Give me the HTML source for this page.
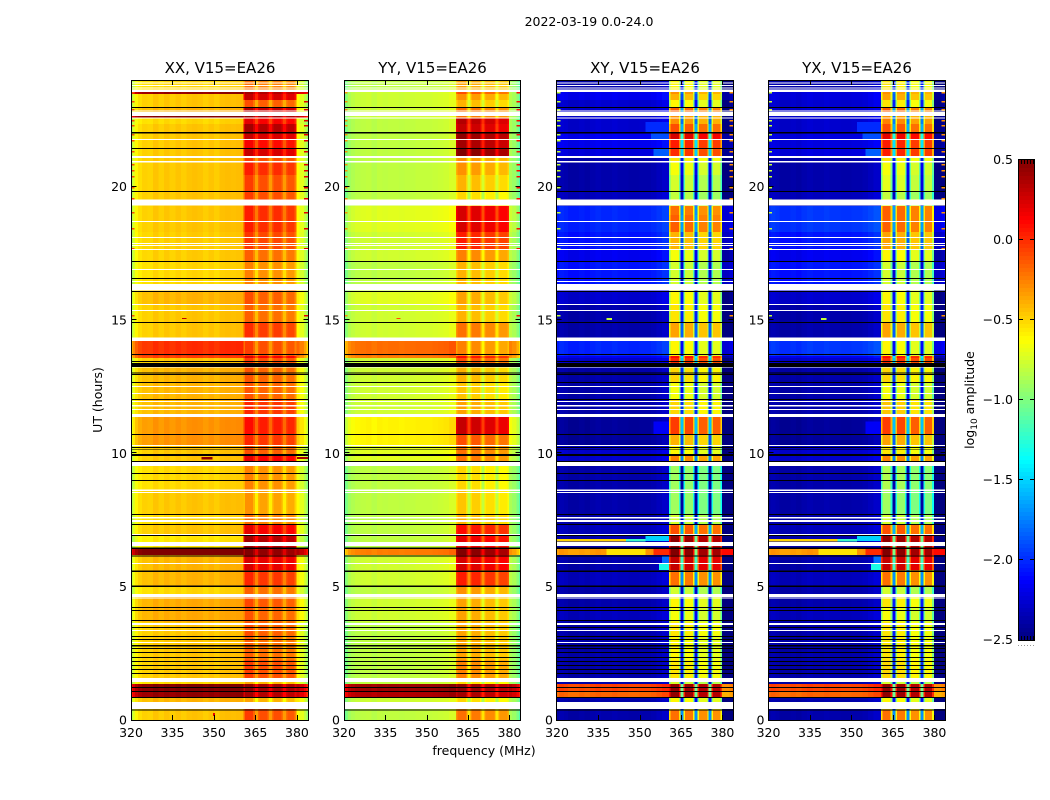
<!DOCTYPE html>
<html>
<head>
<meta charset="utf-8">
<title>2022-03-19 0.0-24.0</title>
<style>
html,body{margin:0;padding:0;background:#fff;width:1050px;height:800px;overflow:hidden}
svg{display:block}
text{font-family:"DejaVu Sans","Liberation Sans",sans-serif;fill:#000}
</style>
</head>
<body>
<svg id="figure" width="1050" height="800" viewBox="0 0 1050 800" xmlns="http://www.w3.org/2000/svg"></svg>
<script>
const panelNames = ['XX', 'YY', 'XY', 'YX'];
const panelSuffix = ', V15=EA26';
const freqTicks = [320, 335, 350, 365, 380];
const utTicks = [0, 5, 10, 15, 20];
const colorTicks = [0.5, 0.0, -0.5, -1.0, -1.5, -2.0, -2.5];

const rowEdgesUT = [24,23.55,23.475,23.25,22.99,22.8,22.65,22.575,22.35,22.01,
 21.75,21.45,21.15,20.925,20.44,19.8,19.54,19.275,18.94,18.3,
 17.625,17.175,16.31,16.09,15.56,14.925,14.325,14.21,13.65,13.575,
 13.39,13.24,12.675,12.0,11.475,11.36,10.725,10.31,9.94,9.675,
 9.525,8.59,7.725,7.31,6.9,6.675,6.42,6.18,5.625,5.025,
 4.725,4.24,3.675,3.15,2.25,1.575,1.35,1.09,0.86,0.675,
 0.375,0];

const xxLow = [-.55,.4,-.5,-.5,-.45,-.5,.45,-.55,-.5,-.5,
 -.5,-.5,-.5,-.5,-.5,-.5,-.5,-.5,-.5,-.52,
 -.52,-.55,-.5,-.45,-.5,-.5,-.5,-.05,-.1,-.5,
 -.5,-.45,-.45,-.45,-.4,-.35,-.35,-.5,-.5,-.5,
 -.55,-.5,-.55,-.5,-.6,-.6,.5,-.45,-.45,-.55,
 -.42,-.42,-.5,-.5,-.5,-.55,.45,.4,-.45,-.5,
 -.5];
const xxIF = [-.2,.4,.3,-.1,.35,0,.45,.2,.4,.3,
 .15,.3,-.05,.05,-.05,-.05,0,.05,.05,-.03,
 -.15,-.25,-.1,-.1,-.15,0,0,-.05,.2,-.05,
 -.05,-.12,-.12,.02,.05,.1,.02,-.1,.2,0,
 -.25,-.3,-.2,.2,.4,.4,.5,.25,.02,-.15,
 -.08,-.12,-.1,-.15,-.05,-.35,.45,.4,-.35,0,
 -.05];
const yyLow = [-.82,-.78,-.78,-.78,-.78,-.78,-.78,-.82,-.82,-.82,
 -.82,-.82,-.82,-.82,-.82,-.82,-.78,-.72,-.72,-.77,
 -.77,-.82,-.78,-.72,-.77,-.77,-.77,-.2,-.25,-.78,
 -.78,-.77,-.77,-.77,-.68,-.6,-.6,-.72,-.72,-.77,
 -.82,-.82,-.82,-.82,-.82,-.82,-.25,-.77,-.77,-.82,
 -.77,-.77,-.82,-.82,-.82,-.82,.4,.35,-.78,-.82,
 -.82];
const yyIF = [-.35,-.1,-.3,-.4,-.2,-.3,-.2,.35,.3,.45,
 .4,.5,-.3,-.3,-.4,-.5,-.4,.25,.25,.05,
 -.25,-.4,-.3,-.35,-.4,-.2,-.2,-.25,.1,-.1,
 -.2,-.4,-.45,-.35,-.1,.3,-.1,-.2,-.2,-.4,
 -.5,-.45,-.4,.1,.2,.2,.5,.25,.05,-.3,
 -.35,-.35,-.35,-.35,-.25,-.5,.45,.4,-.5,-.3,
 -.2];
const xyLow = [-2.4,-2.2,-2.2,-2.3,-2.3,-2.3,-2.3,-2.3,-2.3,-2.2,
 -2.2,-2.25,-2.4,-2.4,-2.4,-2.35,-2.4,-2.05,-2.05,-2.1,
 -2.2,-2.1,-2.25,-2.3,-2.4,-2.4,-2.4,-2.05,-2.2,-2.3,
 -2.5,-2.4,-2.4,-2.4,-2.4,-2.45,-2.45,-2.3,-2.3,-2.4,
 -2.4,-2.4,-2.4,-2.35,-2.4,-2.4,-.35,-2.4,-2.35,-2.4,
 -2.4,-2.35,-2.4,-2.4,-2.4,-2.4,-.1,-.2,-2.4,-2.4,
 -2.4];
const xyIF = [-.6,-.3,-.4,-.6,-.15,-.5,-.3,-.3,-.1,.25,
 .05,0,-.55,-.65,-.75,-.8,-.7,-.2,-.15,-.4,
 -.65,-.75,-.65,-.6,-.55,-.35,-.5,-.6,.1,0,
 -.5,-.5,-.65,-.5,-.5,-.05,-.4,-.6,-.25,-.75,
 -.9,-.9,-.75,-.1,.45,.45,.5,.3,-.2,-.75,
 -.6,-.65,-.55,-.6,-.55,-.75,.45,.45,-.6,-.5,
 -.2];
const yxLow = [-2.4,-2.25,-2.25,-2.3,-2.3,-2.3,-2.3,-2.3,-2.3,-2.25,
 -2.25,-2.25,-2.4,-2.4,-2.4,-2.35,-2.4,-2.0,-2.0,-2.1,
 -2.2,-2.1,-2.25,-2.3,-2.4,-2.4,-2.4,-2.0,-2.2,-2.3,
 -2.5,-2.4,-2.4,-2.4,-2.4,-2.45,-2.45,-2.3,-2.3,-2.4,
 -2.4,-2.4,-2.4,-2.35,-2.4,-2.4,-.35,-2.4,-2.35,-2.4,
 -2.4,-2.35,-2.4,-2.4,-2.4,-2.4,-.1,-.2,-2.4,-2.4,
 -2.4];
const yxIF = [-.55,-.3,-.35,-.55,-.15,-.5,-.3,-.25,-.1,.2,
 .05,.05,-.55,-.65,-.7,-.8,-.7,-.15,-.15,-.35,
 -.6,-.75,-.65,-.6,-.55,-.35,-.5,-.6,.1,0,
 -.5,-.5,-.65,-.45,-.5,-.05,-.35,-.55,-.25,-.75,
 -.85,-.9,-.75,-.1,.45,.45,.5,.3,-.2,-.75,
 -.55,-.65,-.55,-.55,-.5,-.75,.45,.45,-.6,-.5,
 -.2];

const specEdgesMHz = [320,320.7,321.5,322.5,324,326,328,330,332,334,336,338,340,342,344,346,348,350,352,354,356,358,360.7,361.2,364.2,364.8,365.9,366.4,369.4,369.9,371,371.5,374.5,375,376,376.5,379.2,379.8,381,382.5,383.4,384];
const specIsIF = [0,0,0,0,0,0,0,0,0,0,0,0,0,0,0,0,0,0,0,0,0,0,1,1,1,1,1,1,1,1,1,1,1,1,1,1,1,0,0,0,0];
const xxSpec = [-.33,-.22,-.1,-.03,.01,0,.05,.01,.05,.02,.05,.02,.05,.06,.05,.02,.05,.02,.06,.07,.06,.07,
 -.15,0,-.12,-.28,-.12,-.05,-.15,-.28,-.15,-.05,-.15,-.28,-.15,-.08,-.2,
 -.12,-.2,-.3,-.45];
const yySpec = [-.25,-.18,-.08,-.04,-.01,0,.01,-.02,.01,0,.01,.01,0,.01,.01,.02,.02,.02,.03,.04,.05,.08,
 -.1,0,-.1,-.35,-.1,-.03,-.12,-.35,-.12,-.08,-.15,-.35,-.15,-.12,-.2,
 -.05,-.1,-.2,-.32];
const xySpec = [0,.05,.05,.03,0,0,.02,0,.03,.05,.03,.03,.05,.03,.03,.02,.02,.03,.03,.05,.08,.12,
 -.35,0,-.35,-1.5,-.4,-.03,-.4,-1.5,-.45,-.1,-.45,-1.5,-.4,-.1,-.45,
 -.2,-.2,-.15,-.1];
const yxSpec = [0,.05,.05,.03,0,0,.02,0,.03,.05,.03,.03,.05,.03,.03,.02,.02,.03,.03,.05,.08,.12,
 -.35,0,-.35,-1.5,-.4,-.03,-.4,-1.5,-.45,-.1,-.45,-1.5,-.4,-.1,-.45,
 -.2,-.2,-.15,-.1];

const whiteStartUT = [23.906,23.8125,23.72,23.64,22.856,22.8,22.6,21.79,21.15,20.96,19.51,18.71,18.11,17.89,17.81,17.66,16.91,16.46,16.35,15.6,15.375,14.34,13.24,12.525,12.26,11.96,11.81,11.66,11.475,10.31,9.675,8.64,8.55,7.61,7.5,6.975,6.675,5.89,4.725,4.59,3.64,3.375,2.925,1.575,0.675];
const whiteEndUT = [23.869,23.775,23.68,23.55,22.82,22.65,22.56,21.75,21.075,20.91,19.29,18.675,18.075,17.85,17.775,17.625,16.875,16.425,16.11,15.56,15.34,14.22,13.21,12.49,12.225,11.925,11.76,11.625,11.36,10.275,9.525,8.59,8.51,7.56,7.425,6.94,6.525,5.85,4.61,4.55,3.56,3.34,2.89,1.425,0.41];

const blackStartUT = [22.99,22.05,21.45,19.84,17.21,16.575,16.09,14.925,13.725,13.46,13.39,13.03,12.975,12.675,12.04,10.725,10.24,10.17,9.975,9.71,9.26,9.0,7.725,7.35,6.94,6.47,6.17,5.61,5.04,4.24,4.125,3.75,3.49,3.15,3.04,2.81,2.7,2.55,2.36,2.21,2.06,1.91,1.76,1.24,1.09,0.86,0.39];
const blackEndUT = [22.95,21.99,21.41,19.8,17.175,16.54,16.05,14.89,13.69,13.425,13.24,12.99,12.94,12.64,12.0,10.69,10.2,10.14,9.9,9.675,9.225,8.96,7.69,7.31,6.9,6.42,6.13,5.55,4.99,4.2,4.09,3.71,3.45,3.11,3.0,2.76,2.66,2.51,2.325,2.175,2.025,1.875,1.725,1.2,1.05,0.825,0.36];

const edgeSpikeUT = [23.55,23.22,22.91,22.5,22.31,21.975,21.75,21.34,20.85,20.625,20.4,19.99,19.575,19.05,18.45,17.7,15.19];
const leftSpikeValues = [-.1,-.3,-.8,-.8];
const rightSpikeValues = [.2,.1,-.3,-.3];

const patchPanels = [0,0,0,0,1, 2,3, 2,2,2,3,3,3, 2,2,3,3, 2,2,2,3,3,3, 2,2,2,2,3,3,3,3];
const patchStartUT = [9.86,9.86,15.08,0.26,15.08, 15.08,15.08, 6.79,6.79,6.9,6.79,6.79,6.9, 6.15,5.89,6.15,5.89, 6.41,6.41,6.41,6.41,6.41,6.41, 22.43,21.99,21.45,11.2,22.43,21.99,21.45,11.2];
const patchEndUT = [9.77,9.79,15.04,0.15,15.04, 15.0,15.0, 6.69,6.69,6.71,6.69,6.69,6.71, 5.89,5.625,5.89,5.625, 6.19,6.19,6.19,6.19,6.19,6.19, 22.05,21.75,21.15,10.725,22.05,21.75,21.15,10.725];
const patchLoMHz = [345.5,380,338.5,349.7,339, 338,339, 320,345,352,320,345,352, 358,357,358,357, 355,379.8,338,355,379.8,338, 352,354,355,355,352,354,355,355];
const patchHiMHz = [349.5,384,340,350.4,340.5, 340,341, 345,352,360.7,345,352,360.7, 360.7,360.7,360.7,360.7, 360.7,384,352,360.7,384,352, 360.7,360.7,360.7,360.7,360.7,360.7,360.7,360.7];
const patchValues = [.45,.4,.3,.2,-.1, -.8,-.8, -.5,-1.2,-1.5,-.5,-1.2,-1.5, -1.8,-1.3,-1.8,-1.3, 0,.1,-.55,0,.1,-.55, -2.0,-1.9,-1.85,-2.15,-2.0,-1.9,-1.85,-2.15];

const panelLow = [xxLow, yyLow, xyLow, yxLow];
const panelIF = [xxIF, yyIF, xyIF, yxIF];
const panelSpec = [xxSpec, yySpec, xySpec, yxSpec];

const NS = 'http://www.w3.org/2000/svg';
const svg = document.getElementById('figure');
const PANEL_LEFT = [131, 344, 557, 768.5];
const PANEL_W = [177, 176.5, 176.5, 177];
const FRAME_LEFT = [131.5, 344.5, 556.5, 768.5];
const FRAME_RIGHT = [308.5, 520.5, 733.5, 945.5];
const PANEL_TOP = 80;
const PANEL_H = 640;
const CB = {x: 1019, y: 160, w: 15, h: 480};

function xScale(p, f) { return PANEL_LEFT[p] + (f - 320) / 64 * PANEL_W[p]; }
function yScale(ut) { return PANEL_TOP + (24 - ut) / 24 * PANEL_H; }
function cbScale(v) { return CB.y + (0.5 - v) / 3 * CB.h; }
function clamp01(a) { return Math.max(0, Math.min(1, a)); }
function jet(v) {
  const t = clamp01((v + 2.5) / 3);
  const r = clamp01(1.5 - Math.abs(4 * t - 3));
  const g = clamp01(1.5 - Math.abs(4 * t - 2));
  const b = clamp01(1.5 - Math.abs(4 * t - 1));
  return 'rgb(' + Math.round(r * 255) + ',' + Math.round(g * 255) + ',' + Math.round(b * 255) + ')';
}
function make(parent, tag, attrs, txt) {
  const el = document.createElementNS(NS, tag);
  for (const k in attrs) el.setAttribute(k, attrs[k]);
  if (txt !== undefined) el.textContent = txt;
  parent.appendChild(el);
  return el;
}
function box(parent, x0, x1, y0, y1, fill) {
  return make(parent, 'rect', {x: x0, y: y0, width: x1 - x0, height: y1 - y0, fill: fill, 'shape-rendering': 'crispEdges'});
}
function fmtTick(v) { return (v < 0 ? '\u2212' : '') + Math.abs(v).toFixed(1); }

const mainTitle = make(svg, 'text', {x: 589, y: 26, 'font-size': 12.5, 'text-anchor': 'middle'}, '2022-03-19 0.0-24.0');



panelNames.forEach(function (name, p) {
  const g = make(svg, 'g', {});
  
  
  const L = FRAME_LEFT[p], R = FRAME_RIGHT[p];

  for (let r = 0; r < rowEdgesUT.length - 1; r++) {
    for (let s = 0; s < specIsIF.length; s++) {
      const level = specIsIF[s] ? panelIF[p][r] : panelLow[p][r];
      const val = level + panelSpec[p][s];
      const cell = box(g, xScale(p, specEdgesMHz[s]), xScale(p, specEdgesMHz[s + 1]), yScale(rowEdgesUT[r]), yScale(rowEdgesUT[r + 1]), jet(val));
      
      
    }
  }
  patchValues.forEach(function (v, i) {
    if (patchPanels[i] !== p) return;
    const patch = box(g, xScale(p, patchLoMHz[i]), xScale(p, patchHiMHz[i]), yScale(patchStartUT[i]), yScale(patchEndUT[i]), jet(v));
    
    
  });
  edgeSpikeUT.forEach(function (ut) {
    const sl = box(g, xScale(p, 320), xScale(p, 321.3), yScale(ut), yScale(ut - 0.056), jet(leftSpikeValues[p]));
    
    
    const sr = box(g, xScale(p, 382.5), xScale(p, 384), yScale(ut), yScale(ut - 0.056), jet(rightSpikeValues[p]));
    
    
  });
  whiteStartUT.forEach(function (ut, i) {
    const w = box(g, L, R, yScale(ut), yScale(whiteEndUT[i]), '#fff');
    
    
  });
  blackStartUT.forEach(function (ut, i) {
    const b = box(g, L, R, yScale(ut), yScale(blackEndUT[i]), '#000');
    
    
  });

  const frame = make(g, 'rect', {x: L, y: PANEL_TOP + 0.5, width: R - L, height: PANEL_H, fill: 'none', stroke: '#000', 'stroke-width': 1});
  
  

  freqTicks.forEach(function (f) {
    const x = Math.round(xScale(p, f)) + 0.5;
    if (f > 320) {
      const t1 = make(g, 'line', {x1: x, x2: x, y1: PANEL_TOP, y2: PANEL_TOP + 5, stroke: '#000'});
      
      
      const t2 = make(g, 'line', {x1: x, x2: x, y1: PANEL_TOP + PANEL_H, y2: PANEL_TOP + PANEL_H - 5, stroke: '#000'});
      
      
    }
    const lab = make(g, 'text', {x: xScale(p, f), y: 737, 'font-size': 12.5, 'text-anchor': 'middle'}, String(f));
    
    
  });
  utTicks.forEach(function (u) {
    const y = Math.round(yScale(u)) - 0.5;
    if (u > 0) {
      const t1 = make(g, 'line', {x1: L, x2: L + 5, y1: y, y2: y, stroke: '#000'});
      
      
      const t2 = make(g, 'line', {x1: R, x2: R - 5, y1: y, y2: y, stroke: '#000'});
      
      
    }
    const lab = make(g, 'text', {x: PANEL_LEFT[p] - 4, y: yScale(u) + 4.5, 'font-size': 12.5, 'text-anchor': 'end'}, String(u));
    
    
  });
  const title = make(g, 'text', {x: (L + R) / 2, y: 73, 'font-size': 15, 'text-anchor': 'middle'}, name + panelSuffix);
  
  
});

const yTitle = make(svg, 'text', {x: 102, y: 400, 'font-size': 12.5, 'text-anchor': 'middle', transform: 'rotate(-90 102 400)'}, 'UT (hours)');


const xTitle = make(svg, 'text', {x: 484, y: 755, 'font-size': 12.5, 'text-anchor': 'middle'}, 'frequency (MHz)');



const cbGroup = make(svg, 'g', {});


const cbSteps = 120;
for (let i = 0; i < cbSteps; i++) {
  const hi = 0.5 - 3 * i / cbSteps, lo = 0.5 - 3 * (i + 1) / cbSteps;
  const swatch = box(cbGroup, CB.x, CB.x + CB.w, cbScale(hi), cbScale(lo), jet((hi + lo) / 2));
  
  
}
const cbFrame = make(cbGroup, 'rect', {x: CB.x - 0.5, y: CB.y - 0.5, width: CB.w + 1, height: CB.h + 1, fill: 'none', stroke: '#000'});


colorTicks.forEach(function (v) {
  const y = Math.round(cbScale(v)) - 0.5;
  if (v < 0.5 && v > -2.5) {
    const t1 = make(cbGroup, 'line', {x1: CB.x, x2: CB.x + 4, y1: y, y2: y, stroke: '#000'});
    
    
    const t2 = make(cbGroup, 'line', {x1: CB.x + CB.w, x2: CB.x + CB.w - 4, y1: y, y2: y, stroke: '#000'});
    
    
  }
  const lab = make(cbGroup, 'text', {x: 1013, y: cbScale(v) + 4, 'font-size': 12.5, 'text-anchor': 'end'}, fmtTick(v));
  
  
});
[1021, 1024, 1027, 1030, 1033].forEach(function (x) {
  const m1 = make(cbGroup, 'line', {x1: x + 0.5, x2: x + 0.5, y1: CB.y, y2: CB.y + 4, stroke: '#000'});
  
  
  const m2 = make(cbGroup, 'line', {x1: x + 0.5, x2: x + 0.5, y1: CB.y + CB.h, y2: CB.y + CB.h - 4, stroke: '#000'});
  
  
});
const cbDots = make(cbGroup, 'line', {x1: 1018, x2: 1035, y1: 645.5, y2: 645.5, stroke: '#999', 'stroke-dasharray': '1 2'});


const cbLabel = make(svg, 'text', {x: 974, y: 400, 'font-size': 12.5, 'text-anchor': 'middle', transform: 'rotate(-90 974 400)'});


make(cbLabel, 'tspan', {}, 'log');
make(cbLabel, 'tspan', {'font-size': 9, dy: 3}, '10');
make(cbLabel, 'tspan', {dy: -3}, ' amplitude');
</script>
</body>
</html>
